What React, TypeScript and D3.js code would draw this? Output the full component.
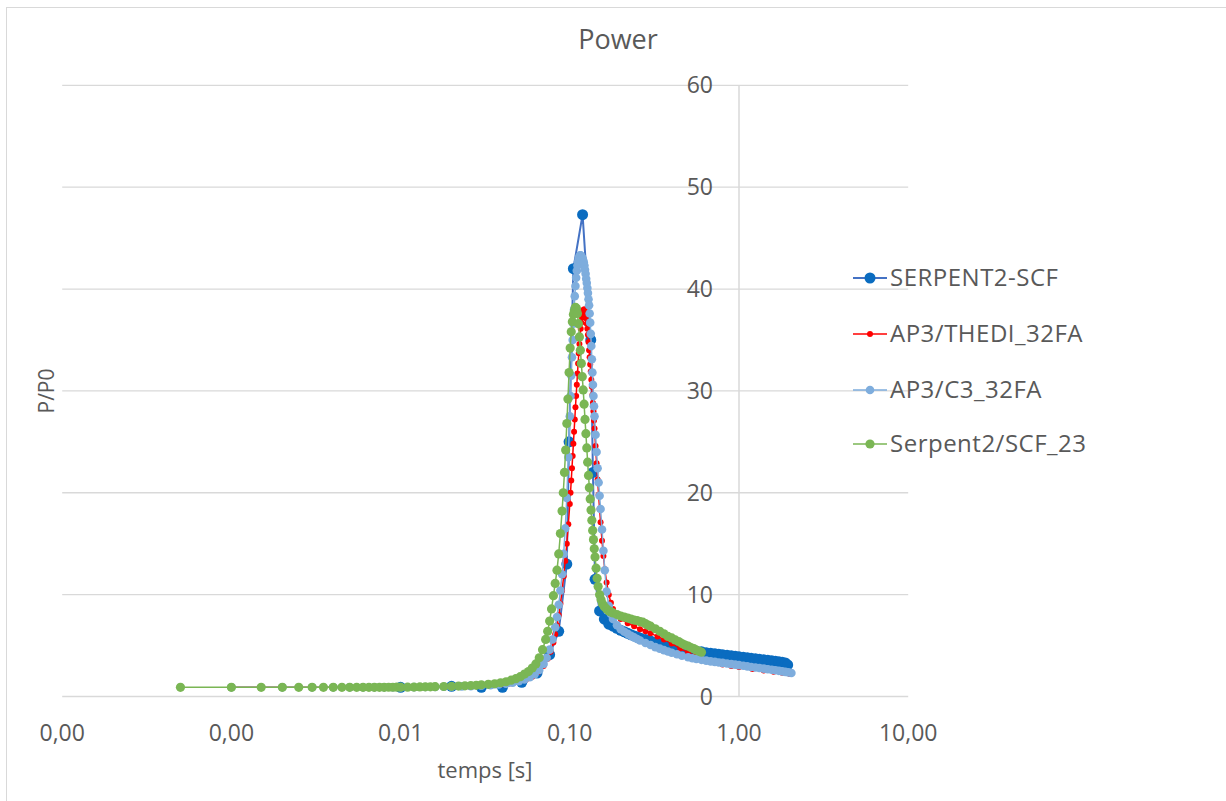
import React from "react";
import * as d3 from "d3";

const title = "Power";
const xTitle = "temps [s]";
const yTitle = "P/P0";
const xTicks = [0.0001, 0.001, 0.01, 0.1, 1, 10];
const yTicks = [0, 10, 20, 30, 40, 50, 60];

// SERPENT2-SCF
const sTimes = [0.01,0.02,0.03,0.04,0.052,0.064,0.076,0.086,0.096,0.099,0.105,0.119,0.133,0.137,0.141,0.15,0.16,0.17,0.18,0.19,
  0.2,0.21,0.22,0.23,0.24,0.25,0.26,0.28,0.3,0.32,0.34,0.36,0.38,0.4,0.43,0.46,0.5,0.53,0.56,0.6,0.64,0.68,0.72,0.76,0.8,0.85,0.9,0.95,
  1.0,1.06,1.12,1.18,1.25,1.32,1.4,1.48,1.56,1.64,1.72,1.8,1.88,1.94];
const sValues = [0.9,1.0,0.9,0.9,1.4,2.3,4.1,6.4,13,25,42,47.3,35,22,11.5,8.4,7.6,7.1,6.9,6.7,
  6.5,6.35,6.2,6.05,5.95,5.85,5.75,5.6,5.45,5.3,5.2,5.1,5.0,4.9,4.8,4.7,4.6,4.5,4.45,4.4,4.3,4.25,4.2,4.15,4.1,4.05,4.0,3.95,
  3.9,3.85,3.8,3.75,3.7,3.65,3.6,3.55,3.5,3.45,3.4,3.35,3.3,3.1];

// AP3/THEDI_32FA
const rTimes = [0.001,0.002,0.003,0.004,0.005,0.006,0.007,0.008,0.009,0.01,
  0.012,0.015,0.02,0.025,0.03,0.035,0.04,0.045,0.05,0.055,0.06,0.065,0.07,0.074,0.077,0.08,0.082,0.084,0.086,0.088,
  0.09,0.092,0.094,0.096,0.098,0.1,0.101,0.102,0.103,0.104,0.105,0.106,0.107,0.108,0.109,0.11,0.111,0.112,0.113,0.114,
  0.115,0.116,0.117,0.118,0.119,0.12,0.121,0.122,0.123,0.124,0.125,0.126,0.127,0.128,0.129,0.13,0.131,0.132,0.133,0.134,
  0.135,0.136,0.137,0.138,0.139,0.14,0.142,0.144,0.146,0.148,0.15,0.152,0.155,0.158,0.161,0.165,0.17,0.175,0.18,0.19,
  0.2,0.22,0.24,0.26,0.28,0.3,0.33,0.36,0.4,0.45,0.5,0.55,0.6,0.7,0.8,0.9,1.0,1.2,1.4,1.6,1.8,2.0];
const rValues = [0.9,0.9,0.9,0.9,0.9,0.9,0.9,0.9,0.9,0.9,
  0.92,0.94,0.97,1.0,1.05,1.12,1.2,1.3,1.45,1.65,1.95,2.4,3.0,3.7,4.4,5.3,6.1,7.0,8.0,9.1,
  10.4,11.8,13.3,15.0,16.9,18.9,20.0,21.2,22.4,23.6,24.8,26.0,27.2,28.4,29.5,30.6,31.7,32.7,33.7,34.6,
  35.4,36.1,36.7,37.2,37.6,37.9,38.0,38.0,37.8,37.5,37.1,36.6,36.1,35.5,34.8,34.0,33.3,32.6,31.9,31.1,
  30.4,29.6,28.8,28.0,27.1,26.3,24.6,22.9,21.3,19.8,18.4,17.1,15.3,13.8,12.5,11.2,10.0,9.2,8.6,8.0,
  7.6,7.2,6.9,6.6,6.4,6.2,5.9,5.6,5.2,4.7,4.3,4.0,3.7,3.4,3.15,3.0,2.9,2.7,2.55,2.42,2.32,2.22];

// AP3/C3_32FA
const cTimes = [0.001,0.002,0.003,0.004,0.005,0.006,0.007,0.008,0.009,0.01,
  0.012,0.014,0.016,0.018,0.02,0.023,0.026,0.03,0.034,0.038,0.042,0.046,0.05,0.054,0.058,0.062,0.066,0.07,0.073,0.076,
  0.079,0.082,0.084,0.086,0.088,0.09,0.092,0.094,0.096,0.098,0.1,0.101,0.102,0.103,0.104,0.105,0.106,0.107,0.108,0.109,
  0.11,0.111,0.112,0.113,0.114,0.115,0.116,0.117,0.118,0.119,0.12,0.121,0.122,0.123,0.124,0.125,0.126,0.127,0.128,0.129,
  0.13,0.131,0.132,0.133,0.134,0.135,0.136,0.137,0.138,0.139,0.14,0.142,0.144,0.146,0.148,0.15,0.152,0.155,0.158,0.161,
  0.165,0.17,0.175,0.18,0.19,0.2,0.21,0.22,0.23,0.24,0.25,0.26,0.28,0.3,0.32,0.34,0.36,0.38,0.4,0.43,
  0.46,0.5,0.53,0.56,0.6,0.64,0.68,0.72,0.76,0.8,0.85,0.9,0.95,1.0,1.06,1.12,1.18,1.25,1.32,1.4,
  1.48,1.56,1.64,1.72,1.8,1.88,1.96,2.04];
const cValues = [0.9,0.9,0.9,0.9,0.9,0.9,0.9,0.9,0.9,0.9,
  0.92,0.93,0.94,0.95,0.97,0.99,1.02,1.06,1.11,1.18,1.26,1.36,1.5,1.67,1.9,2.2,2.6,3.2,3.8,4.6,
  5.6,6.8,7.8,9.0,10.4,12.0,14.0,16.5,19.5,23.5,27.5,29.5,31.5,33.3,35.0,36.6,38.0,39.3,40.3,41.1,
  41.8,42.3,42.7,43.0,43.2,43.3,43.3,43.2,43.1,43.0,42.8,42.6,42.3,41.9,41.5,41.0,40.6,40.1,39.6,39.0,
  38.4,37.6,36.7,35.6,34.4,33.1,31.8,30.6,29.5,28.5,27.5,25.7,24.0,22.4,21.0,19.7,18.4,16.4,14.3,12.4,
  10.3,8.9,8.1,7.6,7.0,6.6,6.35,6.15,5.95,5.8,5.65,5.5,5.25,5.05,4.85,4.7,4.55,4.42,4.3,4.15,
  4.0,3.85,3.75,3.68,3.6,3.52,3.45,3.4,3.34,3.3,3.24,3.18,3.13,3.08,3.02,2.96,2.9,2.85,2.8,2.74,
  2.68,2.62,2.57,2.52,2.47,2.42,2.37,2.3];

// Serpent2/SCF_23
const gTimes = [0.0005,0.001,0.0015,0.002,0.0025,0.003,0.0035,0.004,0.0045,0.005,0.0055,0.006,0.0065,0.007,0.0075,0.008,0.0085,0.009,0.0095,0.01,
  0.011,0.012,0.013,0.014,0.015,0.016,0.018,0.02,0.022,0.024,0.026,0.028,0.03,0.033,0.036,0.039,0.042,0.045,0.048,0.051,
  0.054,0.057,0.06,0.063,0.066,0.069,0.072,0.074,0.076,0.078,0.08,0.082,0.084,0.086,0.088,0.09,0.0915,0.093,0.0945,0.096,
  0.0975,0.099,0.1005,0.102,0.1035,0.105,0.1065,0.108,0.1095,0.111,0.1125,0.114,0.1155,0.117,0.1185,0.12,0.1215,0.123,0.1245,0.126,
  0.1275,0.129,0.1305,0.132,0.1335,0.135,0.1365,0.138,0.1395,0.141,0.143,0.145,0.147,0.15,0.153,0.156,0.16,0.165,0.17,0.175,
  0.18,0.19,0.2,0.21,0.22,0.23,0.24,0.25,0.26,0.27,0.28,0.29,0.3,0.32,0.34,0.36,0.38,0.4,0.42,0.44,
  0.46,0.48,0.5,0.52,0.54,0.56,0.58,0.6];
const gValues = [0.9,0.9,0.9,0.9,0.9,0.9,0.9,0.9,0.9,0.9,0.9,0.9,0.9,0.9,0.9,0.9,0.91,0.91,0.92,0.92,
  0.92,0.93,0.94,0.95,0.95,0.96,0.98,1.0,1.02,1.05,1.08,1.1,1.15,1.2,1.25,1.35,1.45,1.6,1.75,1.95,
  2.2,2.45,2.8,3.2,3.8,4.6,5.6,6.4,7.4,8.6,9.9,11.1,12.4,14.0,16.0,18.2,20.0,22.0,24.2,26.8,
  29.2,31.8,34.2,35.8,36.8,37.5,37.9,38.2,38.1,37.6,36.6,35.3,34.0,32.7,31.4,30.1,28.7,27.2,25.8,24.4,
  23.0,21.7,20.5,19.4,18.3,17.3,16.3,15.4,14.5,13.7,12.6,11.6,10.8,10.0,9.5,9.1,8.8,8.6,8.4,8.3,
  8.2,8.05,7.9,7.8,7.7,7.6,7.5,7.45,7.35,7.3,7.15,7.0,6.9,6.65,6.4,6.15,5.9,5.75,5.55,5.4,
  5.2,5.05,4.95,4.8,4.7,4.55,4.45,4.35];

const seriesNames = ["SERPENT2-SCF", "AP3/THEDI_32FA", "AP3/C3_32FA", "Serpent2/SCF_23"];
const lineColors = ["#4472C4", "#FF0000", "#7EADDD", "#7AB654"];
const markerColors = ["#0A6CC0", "#FF0000", "#7EADDD", "#7AB654"];
const markerRadii = [5.5, 3, 4.3, 4.6];
const lineWidths = [2, 1.5, 1.5, 1.5];
const seriesTimes = [sTimes, rTimes, cTimes, gTimes];
const seriesValues = [sValues, rValues, cValues, gValues];

const W = 1226;
const H = 801;
const font = "'Open Sans', 'Noto Sans', sans-serif";
const textColor = "#595959";
const gridColor = "#D9D9D9";

export default function App() {
  const x = d3.scaleLog().domain([0.0001, 10]).range([62.2, 908.2]);
  const y = d3.scaleLinear().domain([0, 60]).range([696.5, 85.3]);
  const line = d3
    .line<[number, number]>()
    .x((d) => x(d[0]))
    .y((d) => y(d[1]));
  const fmtX = (v: number) => v.toFixed(2).replace(".", ",");
  const legendY = [278, 334, 390, 444];

  return (
    <svg
      width={W}
      height={H}
      style={{ position: "absolute", left: 0, top: 0, background: "#fff" }}
    >
      <rect x={0} y={0} width={W} height={H} fill="#fff" />
      <rect x={6.5} y={7.5} width={W + 20} height={H + 20} fill="none" stroke={gridColor} strokeWidth={1} />
      {yTicks.map((t) => (
        <line key={"g" + t} x1={x(0.0001)} x2={x(10)} y1={y(t)} y2={y(t)} stroke={gridColor} strokeWidth={1.3} />
      ))}
      <line x1={x(1)} x2={x(1)} y1={y(60)} y2={y(0)} stroke={gridColor} strokeWidth={1.5} />
      {yTicks.map((t) => (
        <text key={"yt" + t} x={713} y={y(t)} dy="0.35em" textAnchor="end" fontFamily={font} fontSize={23} fill={textColor}>
          {t}
        </text>
      ))}
      {xTicks.map((t) => (
        <text key={"xt" + t} x={x(t)} y={733} dy="0.35em" textAnchor="middle" fontFamily={font} fontSize={23} fill={textColor}>
          {fmtX(t)}
        </text>
      ))}
      <text x={618} y={40} dy="0.35em" textAnchor="middle" fontFamily={font} fontSize={27} fill={textColor}>
        {title}
      </text>
      <text x={485} y={770} dy="0.35em" textAnchor="middle" fontFamily={font} fontSize={22} fill={textColor}>
        {xTitle}
      </text>
      <text
        transform={`translate(47,391) rotate(-90)`}
        dy="0.35em"
        textAnchor="middle"
        fontFamily={font}
        fontSize={21}
        fill={textColor}
      >
        {yTitle}
      </text>
      {seriesNames.map((name, i) => {
        const pts = seriesTimes[i].map((t, j) => [t, seriesValues[i][j]] as [number, number]);
        return (
          <g key={name}>
            <path d={line(pts) || ""} fill="none" stroke={lineColors[i]} strokeWidth={lineWidths[i]} />
            {pts.map((p, j) => (
              <circle key={j} cx={x(p[0])} cy={y(p[1])} r={markerRadii[i]} fill={markerColors[i]} />
            ))}
          </g>
        );
      })}
      {seriesNames.map((name, i) => (
        <g key={"lg" + name}>
          <line x1={853} x2={887} y1={legendY[i]} y2={legendY[i]} stroke={lineColors[i]} strokeWidth={lineWidths[i]} />
          <circle cx={870} cy={legendY[i]} r={markerRadii[i]} fill={markerColors[i]} />
          <text x={890} y={legendY[i]} dy="0.35em" fontFamily={font} fontSize={24} letterSpacing={0.5} fill={textColor}>
            {name}
          </text>
        </g>
      ))}
    </svg>
  );
}
